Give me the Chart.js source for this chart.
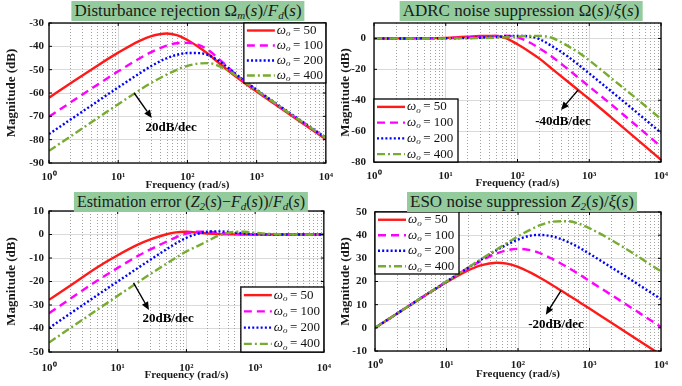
<!DOCTYPE html>
<html><head><meta charset="utf-8">
<script src="https://cdn.jsdelivr.net/npm/chart.js@4.4.0/dist/chart.umd.min.js"></script>
<style>
body{margin:0;background:#fff;}
#wrap{position:relative;width:682px;height:386px;overflow:hidden;font-family:"Liberation Serif","Times New Roman",serif;}
#wrap canvas{position:absolute;}
.ttl{position:absolute;background:#93cb9c;color:#1a1a1a;font-size:17px;line-height:20px;height:20px;white-space:nowrap;text-align:center;z-index:5;font-family:"Liberation Serif",serif;transform:translateX(-50%);padding:0 3px;}
.ttl i{font-style:italic;}
.ttl sub{font-size:11px;vertical-align:-3px;line-height:0;font-style:italic;}
</style></head>
<body><div id="wrap">
<canvas id="c1" width="341" height="193" style="left:0;top:0"></canvas>
<canvas id="c2" width="341" height="193" style="left:341px;top:0"></canvas>
<canvas id="c3" width="341" height="193" style="left:0;top:193px"></canvas>
<canvas id="c4" width="341" height="193" style="left:341px;top:193px"></canvas>
<div class="ttl" style="left:188px;top:1px;">Disturbance rejection Ω<sub>m</sub>(<i>s</i>)/<i>F</i><sub>d</sub>(<i>s</i>)</div>
<div class="ttl" style="left:521px;top:1px;">ADRC noise suppression Ω(<i>s</i>)/<i>ξ</i>(<i>s</i>)</div>
<div class="ttl" style="left:191px;top:192px;font-size:16px;">Estimation error (<i>Z</i><sub>2</sub>(<i>s</i>)−<i>F</i><sub>d</sub>(<i>s</i>))/<i>F</i><sub>d</sub>(<i>s</i>)</div>
<div class="ttl" style="left:522px;top:192px;">ESO noise suppression <i>Z</i><sub>2</sub>(<i>s</i>)/<i>ξ</i>(<i>s</i>)</div>
</div>
<script>
// ---------- data ----------
const freq = [1,2,5,10,20,30,50,70,100,150,200,300,500,700,1000,2000,5000,10000];
const omegas = [50,100,200,400];

// Disturbance rejection Ωm(s)/Fd(s)  [dB]
const dist50  = [-62,-56.04,-48.28,-42.71,-37.74,-35.63,-34.52,-35.2,-37.3,-40.6,-43.3,-47.7,-53,-56.2,-59.4,-65.6,-73.7,-79.8];
const dist100 = [-70.2,-64.24,-56.44,-50.72,-45.3,-42.48,-39.7,-38.68,-38.52,-39.58,-41.58,-45.98,-51.98,-55.48,-58.88,-65.2,-73.3,-79.4];
const dist200 = [-77.6,-71.58,-63.62,-57.6,-51.74,-48.44,-45.11,-43.65,-42.88,-42.9,-43.75,-46.74,-51.85,-55.2,-58.6,-64.9,-73.06,-79.17];
const dist400 = [-84.8,-78.78,-70.82,-64.8,-58.93,-55.67,-52.12,-50.08,-48.38,-47.32,-47.2,-48.73,-52.5,-55.57,-58.83,-65.09,-73.21,-79.29];

// ADRC noise suppression Ω(s)/ξ(s)  [dB]
const adrc50  = [0,0.02,0.12,0.4,1.1,1.65,1.6,0.1,-3.8,-8.9,-12.9,-19.5,-27.9,-33.4,-39.2,-50.9,-66.6,-78.6];
const adrc100 = [0,0,0.06,0.2,0.6,1.01,1.65,1.72,0.72,-2.82,-6.29,-11.65,-19.76,-25.29,-31.14,-42.54,-58.12,-70.03];
const adrc200 = [0,0,0.02,0.085,0.27,0.49,1.0,1.43,1.68,1.21,-0.33,-4.9,-11.6,-16.84,-22.68,-34.04,-49.31,-61.16];
const adrc400 = [0,0,0,0.03,0.1,0.23,0.48,0.82,1.2,1.66,1.65,0.44,-4.8,-9.0,-14.2,-25.5,-40.5,-52.2];

// Estimation error (Z2(s)-Fd(s))/Fd(s)  [dB]
const est50  = [-27.8,-21.9,-14,-8.8,-4.2,-2.1,0,0.9,1.15,0.8,0.45,0.18,0.05,0.02,0,0,0,0];
const est100 = [-33.5,-27.5,-19.7,-14.2,-9,-6.3,-3.2,-1.2,0.4,1.2,1.2,0.6,0.2,0.08,0.02,0,0,0];
const est200 = [-39.8,-33.8,-25.9,-20,-14.1,-10.7,-6.5,-3.8,-1.4,0.4,1.2,1.35,0.8,0.45,0.15,0.02,0,0];
const est400 = [-46,-40,-32.1,-26.1,-20.2,-16.8,-12.6,-9.9,-7.2,-4.7,-2.9,-0.4,1.1,1.2,0.7,0.15,0.02,0];

// ESO noise suppression Z2(s)/ξ(s)  [dB]
const eso50  = [0,6,13.9,19.7,24.8,27,28.1,27.7,26.3,23.8,21.7,18.5,14.2,11.4,8.3,2.3,-5.7,-11.7];
const eso100 = [0,6,14,19.9,25.7,28.8,32.1,33.5,34.1,33.5,32.3,29.8,26,23.3,20.2,14.3,6.4,0.3];
const eso200 = [0,6,14,20,25.9,29.3,33.5,35.9,38.1,39.8,40.1,39.5,37.1,34.8,32,26.2,18.4,12.4];
const eso400 = [0,6,14,20,26,29.5,33.8,36.6,39.5,42.4,44.2,45.8,46,45,43,38,30.4,24.4];

const xTickValues = [1,10,100,1000,10000];
const xTickLabels = ['10⁰','10¹','10²','10³','10⁴'];
const yTicksDist = [-90,-80,-70,-60,-50,-40,-30];
const yTicksAdrc = [-80,-60,-40,-20,0];
const yTicksEst  = [-50,-40,-30,-20,-10,0,10];
const yTicksEso  = [-10,0,10,20,30,40,50];

// ---------- styles ----------
const colors = ['#ff1a1a','#ff00ff','#0000ff','#77ac30'];
const dashes = [[],[8,5],[2,2.2],[8,3,2,3]];
const SERIF = '"Liberation Serif","Times New Roman",serif';

const decor = {
  id:'decor',
  beforeDatasetsDraw(chart){
    const {ctx, chartArea:a, scales:{x}} = chart;
    ctx.save();
    ctx.strokeStyle='#a0a0a0'; ctx.lineWidth=1; ctx.setLineDash([1,2]);
    for(let d=1; d<10000; d*=10){
      for(let k=2;k<10;k++){
        const px=Math.round(x.getPixelForValue(d*k))+0.5;
        ctx.beginPath(); ctx.moveTo(px,a.top); ctx.lineTo(px,a.bottom); ctx.stroke();
      }
    }
    ctx.restore();
  },
  afterDatasetsDraw(chart, args, o){
    const {ctx, chartArea:a, scales:{x,y}} = chart;
    if(o.arrow){
      const x1=x.getPixelForValue(o.arrow.from[0]), y1=y.getPixelForValue(o.arrow.from[1]);
      const x2=x.getPixelForValue(o.arrow.to[0]), y2=y.getPixelForValue(o.arrow.to[1]);
      ctx.save();
      ctx.strokeStyle='#000'; ctx.fillStyle='#000'; ctx.lineWidth=1.4;
      const ang=Math.atan2(y2-y1,x2-x1), L=8, W=3.5;
      const bx=x2-L*Math.cos(ang), by=y2-L*Math.sin(ang);
      ctx.beginPath(); ctx.moveTo(x1,y1); ctx.lineTo(bx,by); ctx.stroke();
      ctx.beginPath(); ctx.moveTo(x2,y2);
      ctx.lineTo(bx+W*Math.sin(ang), by-W*Math.cos(ang));
      ctx.lineTo(bx-W*Math.sin(ang), by+W*Math.cos(ang));
      ctx.closePath(); ctx.fill();
      ctx.font='bold 13px '+SERIF; ctx.textAlign='center'; ctx.textBaseline='middle';
      ctx.fillText(o.arrow.text, x.getPixelForValue(o.arrow.at[0]), y.getPixelForValue(o.arrow.at[1]));
      ctx.restore();
    }
    ctx.save();
    ctx.strokeStyle='#000'; ctx.lineWidth=1.3;
    ctx.strokeRect(a.left,a.top,a.right-a.left,a.bottom-a.top);
    ctx.lineWidth=1;
    ctx.beginPath();
    xTickValues.forEach(v=>{const p=x.getPixelForValue(v); ctx.moveTo(p,a.bottom); ctx.lineTo(p,a.bottom-3); ctx.moveTo(p,a.top); ctx.lineTo(p,a.top+3);});
    y.ticks.forEach(t=>{const p=y.getPixelForValue(t.value); ctx.moveTo(a.left,p); ctx.lineTo(a.left+3,p); ctx.moveTo(a.right,p); ctx.lineTo(a.right-3,p);});
    ctx.stroke();
    ctx.restore();
    const lg=o.legend; const w=lg.w, h=lg.h;
    let x0 = lg.corner[1]==='r' ? a.right-w : a.left;
    let y0 = lg.corner[0]==='t' ? a.top : a.bottom-h;
    ctx.save();
    ctx.fillStyle='#fff'; ctx.fillRect(x0,y0,w,h);
    ctx.strokeStyle='#000'; ctx.lineWidth=1.3; ctx.strokeRect(x0,y0,w,h);
    chart.data.datasets.forEach((ds,i)=>{
      const yy=y0+h*(i+0.5)/4;
      ctx.save(); ctx.strokeStyle=ds.borderColor; ctx.lineWidth=ds.borderWidth; ctx.setLineDash(ds.borderDash);
      ctx.beginPath(); ctx.moveTo(x0+3,yy); ctx.lineTo(x0+31,yy); ctx.stroke(); ctx.restore();
      ctx.fillStyle='#111'; ctx.textBaseline='middle'; ctx.textAlign='left';
      let tx=x0+33;
      ctx.font='italic 13px '+SERIF; ctx.fillText('ω',tx,yy); tx+=ctx.measureText('ω').width;
      ctx.font='italic 9px '+SERIF; ctx.fillText('o',tx,yy+3.5); tx+=ctx.measureText('o').width+2.5;
      ctx.font='13px '+SERIF; ctx.fillText('= '+omegas[i],tx,yy);
    });
    ctx.restore();
  }
};

function makeChart(id, series, yMin, yMax, yTicks, lay, deco){
  const tickFont={family:SERIF,size:11,weight:'bold'};
  new Chart(document.getElementById(id),{
    type:'line',
    data:{datasets:series.map((vals,i)=>({
      label:'ωₒ = '+omegas[i],
      data:freq.map((f,j)=>({x:f,y:vals[j]})),
      borderColor:colors[i], borderDash:dashes[i], borderWidth:2.4,
      pointRadius:0, fill:false, cubicInterpolationMode:'monotone', clip:0, order:4-i
    }))},
    options:{
      responsive:false, animation:false, devicePixelRatio:1,
      layout:{padding:{left:0,right:lay.r,top:lay.t,bottom:0}},
      plugins:{legend:{display:false},tooltip:{enabled:false},decor:deco},
      scales:{
        x:{type:'logarithmic',min:1,max:10000,
          afterBuildTicks(s){s.ticks=xTickValues.map(v=>({value:v}));},
          afterFit(s){s.height=lay.xh;},
          ticks:{autoSkip:false,maxRotation:0,padding:lay.xp,color:'#1a1a1a',font:tickFont,
            callback:(v)=>xTickLabels[xTickValues.indexOf(v)]},
          grid:{color:'#dadada',drawTicks:false},
          border:{display:false},
          title:{display:true,text:'Frequency (rad/s)',color:'#1a1a1a',font:{family:SERIF,size:11,weight:'bold'},padding:{top:0,bottom:lay.xtp}}
        },
        y:{min:yMin,max:yMax,
          afterBuildTicks(s){s.ticks=yTicks.map(v=>({value:v}));},
          afterFit(s){s.width=lay.yw;},
          ticks:{padding:lay.yp,color:'#1a1a1a',font:tickFont},
          grid:{color:'#dadada',drawTicks:false},
          border:{display:false},
          title:{display:true,text:'Magnitude (dB)',color:'#1a1a1a',font:{family:SERIF,size:13,weight:'bold'},padding:{top:lay.ytp,bottom:0}}
        }
      }
    },
    plugins:[decor]
  });
}

makeChart('c1',[dist50,dist100,dist200,dist400],-90,-30,yTicksDist,
  {r:6,t:23,xh:30,yw:49,xp:8,yp:5,xtp:1.5,ytp:4},
  {legend:{corner:'tr',w:82,h:60},arrow:{from:[17,-60],to:[30.5,-70.7],at:[58,-75],text:'20dB/dec'}});
makeChart('c2',[adrc50,adrc100,adrc200,adrc400],-80,10,yTicksAdrc,
  {r:21,t:23,xh:31,yw:33,xp:8,yp:8,xtp:3.5,ytp:-3},
  {legend:{corner:'bl',w:84,h:63},arrow:{from:[700,-33.4],to:[404,-46.3],at:[431,-54],text:'-40dB/dec'}});
makeChart('c3',[est50,est100,est200,est400],-50,10,yTicksEst,
  {r:6,t:18,xh:34,yw:49,xp:10,yp:5,xtp:4.5,ytp:4},
  {legend:{corner:'br',w:83,h:65},arrow:{from:[17,-20.6],to:[28.5,-32.1],at:[54,-36],text:'20dB/dec'}});
makeChart('c4',[eso50,eso100,eso200,eso400],-10,50,yTicksEso,
  {r:21,t:19,xh:35,yw:34,xp:8,yp:8,xtp:5.5,ytp:-3},
  {legend:{corner:'tl',w:84,h:62},arrow:{from:[400,16.1],to:[245,5.7],at:[340,1.4],text:'-20dB/dec'}});
</script>
</body></html>
